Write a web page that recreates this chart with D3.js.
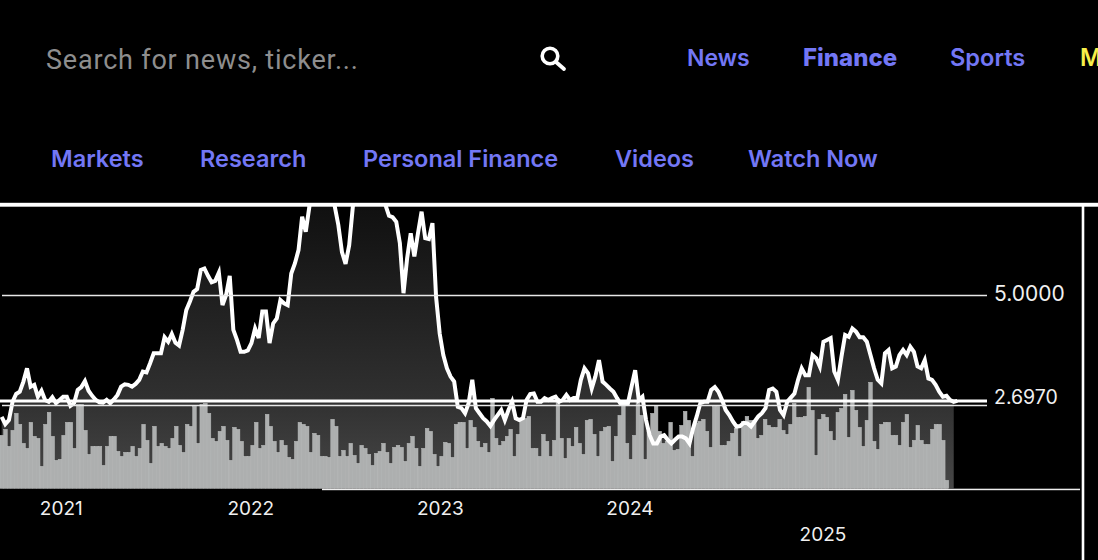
<!DOCTYPE html>
<html><head><meta charset="utf-8">
<script src="https://cdnjs.cloudflare.com/ajax/libs/d3/7.8.5/d3.min.js"></script>
<style>html,body{margin:0;background:#000;overflow:hidden}svg{display:block}</style>
</head><body><svg id="c" width="1098" height="560"></svg>
<script>
const tickYears=[2021,2022,2023,2024,2025];
const lastValue=2.697;
const refValues=[5,2.6];
const startDate=new Date(2020,8,4);
const priceSeries=[2.35,2.19,2.28,2.68,2.85,2.90,3.12,3.41,3.01,3.05,2.79,2.92,2.72,2.68,2.78,2.65,2.72,2.79,2.79,2.59,2.65,2.94,3.00,3.13,2.92,2.81,2.72,2.67,2.66,2.72,2.65,2.73,2.83,3.01,3.06,3.05,3.01,3.07,3.16,3.34,3.32,3.52,3.74,3.74,3.74,4.09,3.99,4.16,3.97,3.91,4.25,4.68,4.87,5.08,5.14,5.56,5.59,5.43,5.29,5.32,5.50,4.79,5.01,5.43,4.25,4.03,3.77,3.77,3.80,3.96,4.28,4.07,4.65,4.65,3.96,4.39,4.50,4.90,4.83,4.79,5.48,5.70,5.99,6.72,6.39,6.94,7.6,8.0,8.3,7.9,7.7,7.3,6.95,6.54,5.95,5.69,6.10,6.93,7.5,8.0,8.4,8.6,8.5,8.3,7.8,7.3,6.98,6.74,6.71,6.61,6.14,5.05,5.81,6.36,5.85,6.36,6.83,6.25,6.23,6.58,4.97,4.17,3.70,3.41,3.23,3.12,2.57,2.54,2.43,2.65,3.16,2.54,2.43,2.32,2.25,2.15,2.28,2.39,2.50,2.28,2.50,2.68,2.32,2.28,2.32,2.72,2.85,2.86,2.68,2.68,2.76,2.72,2.76,2.79,2.68,2.72,2.83,2.72,2.76,2.76,3.16,3.41,3.30,2.97,3.23,3.59,3.12,3.05,2.97,2.90,2.76,2.63,2.65,2.65,3.01,3.37,2.72,2.79,2.28,1.95,1.77,1.77,1.92,1.95,1.85,1.77,1.85,1.92,1.92,1.88,1.77,2.10,2.36,2.65,2.68,2.68,2.94,3.00,2.90,2.72,2.50,2.39,2.25,2.14,2.15,2.22,2.21,2.14,2.25,2.36,2.43,2.54,2.94,2.97,2.90,2.50,2.39,2.68,2.77,2.86,3.16,3.41,3.26,3.26,3.70,3.63,3.45,3.99,4.03,4.07,3.34,3.16,3.67,4.14,4.10,4.28,4.21,4.09,4.09,3.99,3.70,3.41,3.16,3.08,3.74,3.81,3.41,3.45,3.70,3.81,3.70,3.88,3.77,3.45,3.41,3.59,3.19,3.16,3.05,2.90,2.79,2.81,2.72,2.68,2.70];
const volumeSeries=[53,59,42,58,75,64,45,40,66,52,50,22,64,76,52,28,29,53,66,66,40,84,84,58,34,42,42,42,23,42,52,52,37,32,36,36,42,32,40,64,48,25,62,42,45,42,40,50,62,43,36,64,62,82,45,84,85,75,50,47,57,62,48,28,61,59,47,32,32,43,66,40,43,74,62,47,36,48,43,31,29,47,66,64,62,36,55,53,32,32,31,69,62,32,38,32,45,33,25,43,40,34,23,35,37,45,36,25,41,43,41,27,45,52,40,22,40,60,57,34,22,32,46,45,31,64,66,66,40,68,61,47,41,45,36,90,50,43,47,52,59,32,54,68,70,72,40,40,32,54,47,32,48,90,50,30,50,42,61,45,34,68,69,54,32,57,61,62,27,52,73,88,45,29,53,88,73,29,57,75,83,57,45,47,66,38,39,63,77,68,32,65,67,69,57,41,82,82,43,43,47,55,60,32,67,72,68,68,50,53,69,63,61,61,69,58,54,64,85,71,71,72,101,78,33,69,74,71,57,48,76,80,94,51,98,78,61,42,68,106,47,39,64,66,66,53,53,43,66,74,41,48,63,48,44,44,59,64,64,48,8];
const navTop=["News","Finance","Sports","M"];
const navBottom=["Markets","Research","Personal Finance","Videos","Watch Now"];
const searchText="Search for news, ticker...";

const svg=d3.select("#c");
const W=1098,H=560;
const plotTop=206,bottomY=488.3,plotEnd=987;
const WEEK=7*864e5;
const xTime=d3.scaleTime().domain([startDate,new Date(+startDate+volumeSeries.length*WEEK)]).range([0,948.7]);
const xBand=d3.scaleBand().domain(d3.range(volumeSeries.length)).range([0,948.7]).padding(0);
const xLine=d3.scaleLinear().domain([0,264]).range([1.67,957.35]);
const y=d3.scaleLinear().domain([5,lastValue]).range([295.5,401]);
const yVol=d3.scaleLinear().domain([0,100]).range([bottomY,bottomY-100]);

const defs=svg.append("defs");
const g=defs.append("linearGradient").attr("id","fade").attr("gradientUnits","userSpaceOnUse")
 .attr("x1",0).attr("x2",0).attr("y1",plotTop).attr("y2",bottomY);
g.append("stop").attr("offset",0).attr("stop-color","#101010");
g.append("stop").attr("offset",0.68).attr("stop-color","#303030");
g.append("stop").attr("offset",1).attr("stop-color","#474747");
defs.append("clipPath").attr("id","plot").append("rect").attr("x",0).attr("y",plotTop).attr("width",plotEnd).attr("height",bottomY-plotTop+2);

const plot=svg.append("g").attr("clip-path","url(#plot)");
const areaData=priceSeries.slice(0,264);
plot.append("path").datum(areaData).attr("fill","url(#fade)")
 .attr("d",d3.area().x((d,i)=>xLine(i)).y0(bottomY).y1(d=>y(d)));
plot.append("g").selectAll("rect").data(volumeSeries).join("rect")
 .attr("x",(d,i)=>xBand(i)).attr("width",xBand.bandwidth()).attr("y",d=>yVol(d)).attr("height",d=>bottomY-yVol(d))
 .attr("fill","#adafaf").attr("stroke","#bcbebe").attr("stroke-width",0.5);

svg.append("line").attr("x1",2).attr("x2",plotEnd).attr("y1",y(refValues[0])).attr("y2",y(refValues[0])).attr("stroke","#e8e8e8").attr("stroke-width",1.4);
svg.append("line").attr("x1",2).attr("x2",plotEnd).attr("y1",y(refValues[1])).attr("y2",y(refValues[1])).attr("stroke","#e8e8e8").attr("stroke-width",1.4);

plot.append("path").datum(priceSeries).attr("fill","none").attr("stroke","#fff").attr("stroke-width",4)
 .attr("d",d3.line().x((d,i)=>xLine(i)).y(d=>y(d)));
svg.append("line").attr("x1",0).attr("x2",plotEnd).attr("y1",y(lastValue)).attr("y2",y(lastValue)).attr("stroke","#fff").attr("stroke-width",3);

const labelFont="Inter, 'Liberation Sans', sans-serif";
svg.append("text").attr("x",994).attr("y",y(refValues[0])-2).attr("dy","0.35em").attr("fill","#f0f0f0").attr("font-family",labelFont).attr("font-size",21).text(d3.format(".4f")(refValues[0]));
svg.append("text").attr("x",994).attr("y",y(lastValue)-4).attr("dy","0.35em").attr("fill","#f0f0f0").attr("font-family",labelFont).attr("font-size",19.5).text(d3.format(".4f")(lastValue));

svg.append("rect").attr("x",0).attr("y",202.8).attr("width",W).attr("height",3.9).attr("fill","#fff");
svg.append("rect").attr("x",1081.7).attr("y",205).attr("width",2.6).attr("height",H-205).attr("fill","#fff");
svg.append("rect").attr("x",322).attr("y",488.7).attr("width",758).attr("height",1.5).attr("fill","#eee");

const axis=d3.axisBottom(xTime).tickValues(tickYears.map(v=>new Date(v,0,1))).tickSize(0).tickFormat(d3.timeFormat("%Y"));
const ax=svg.append("g").attr("transform",`translate(0,${bottomY})`).call(axis);
ax.select(".domain").remove();
ax.selectAll("text").attr("fill","#f0f0f0").attr("font-family",labelFont).attr("font-size",19).attr("y",13)
 .attr("dy","0.71em").attr("dx",-1).filter(d=>d.getFullYear()===2025).attr("y",39).attr("dx",2);

const navColor="#7377f5";
svg.append("text").attr("x",46).attr("y",69).attr("fill","#8e8e8e").attr("font-family","Roboto, Inter, sans-serif").attr("font-size",27).attr("letter-spacing",0.8).text(searchText);
const s=svg.append("g").attr("stroke","#fff").attr("fill","none").attr("stroke-linecap","round");
s.append("circle").attr("cx",550).attr("cy",56).attr("r",7.8).attr("stroke-width",3.6);
s.append("line").attr("x1",556).attr("y1",62).attr("x2",564).attr("y2",69).attr("stroke-width",3.8);

const topX=[687,803,950,1080];
svg.append("g").selectAll("text").data(navTop).join("text")
 .attr("x",(d,i)=>topX[i]).attr("y",66).attr("font-family","Inter, sans-serif")
 .attr("font-size",d=>d==="Finance"?24:d==="News"?23:23.6)
 .attr("font-weight",d=>d==="Finance"?800:600)
 .attr("fill",d=>d==="M"?"#f7ef4a":navColor).text(d=>d);
const botX=[51,200,363,615,748];
svg.append("g").selectAll("text").data(navBottom).join("text")
 .attr("x",(d,i)=>botX[i]).attr("y",167).attr("font-family","Inter, sans-serif").attr("font-size",23.5).attr("font-weight",600)
 .attr("fill",navColor).text(d=>d);
</script></body></html>
